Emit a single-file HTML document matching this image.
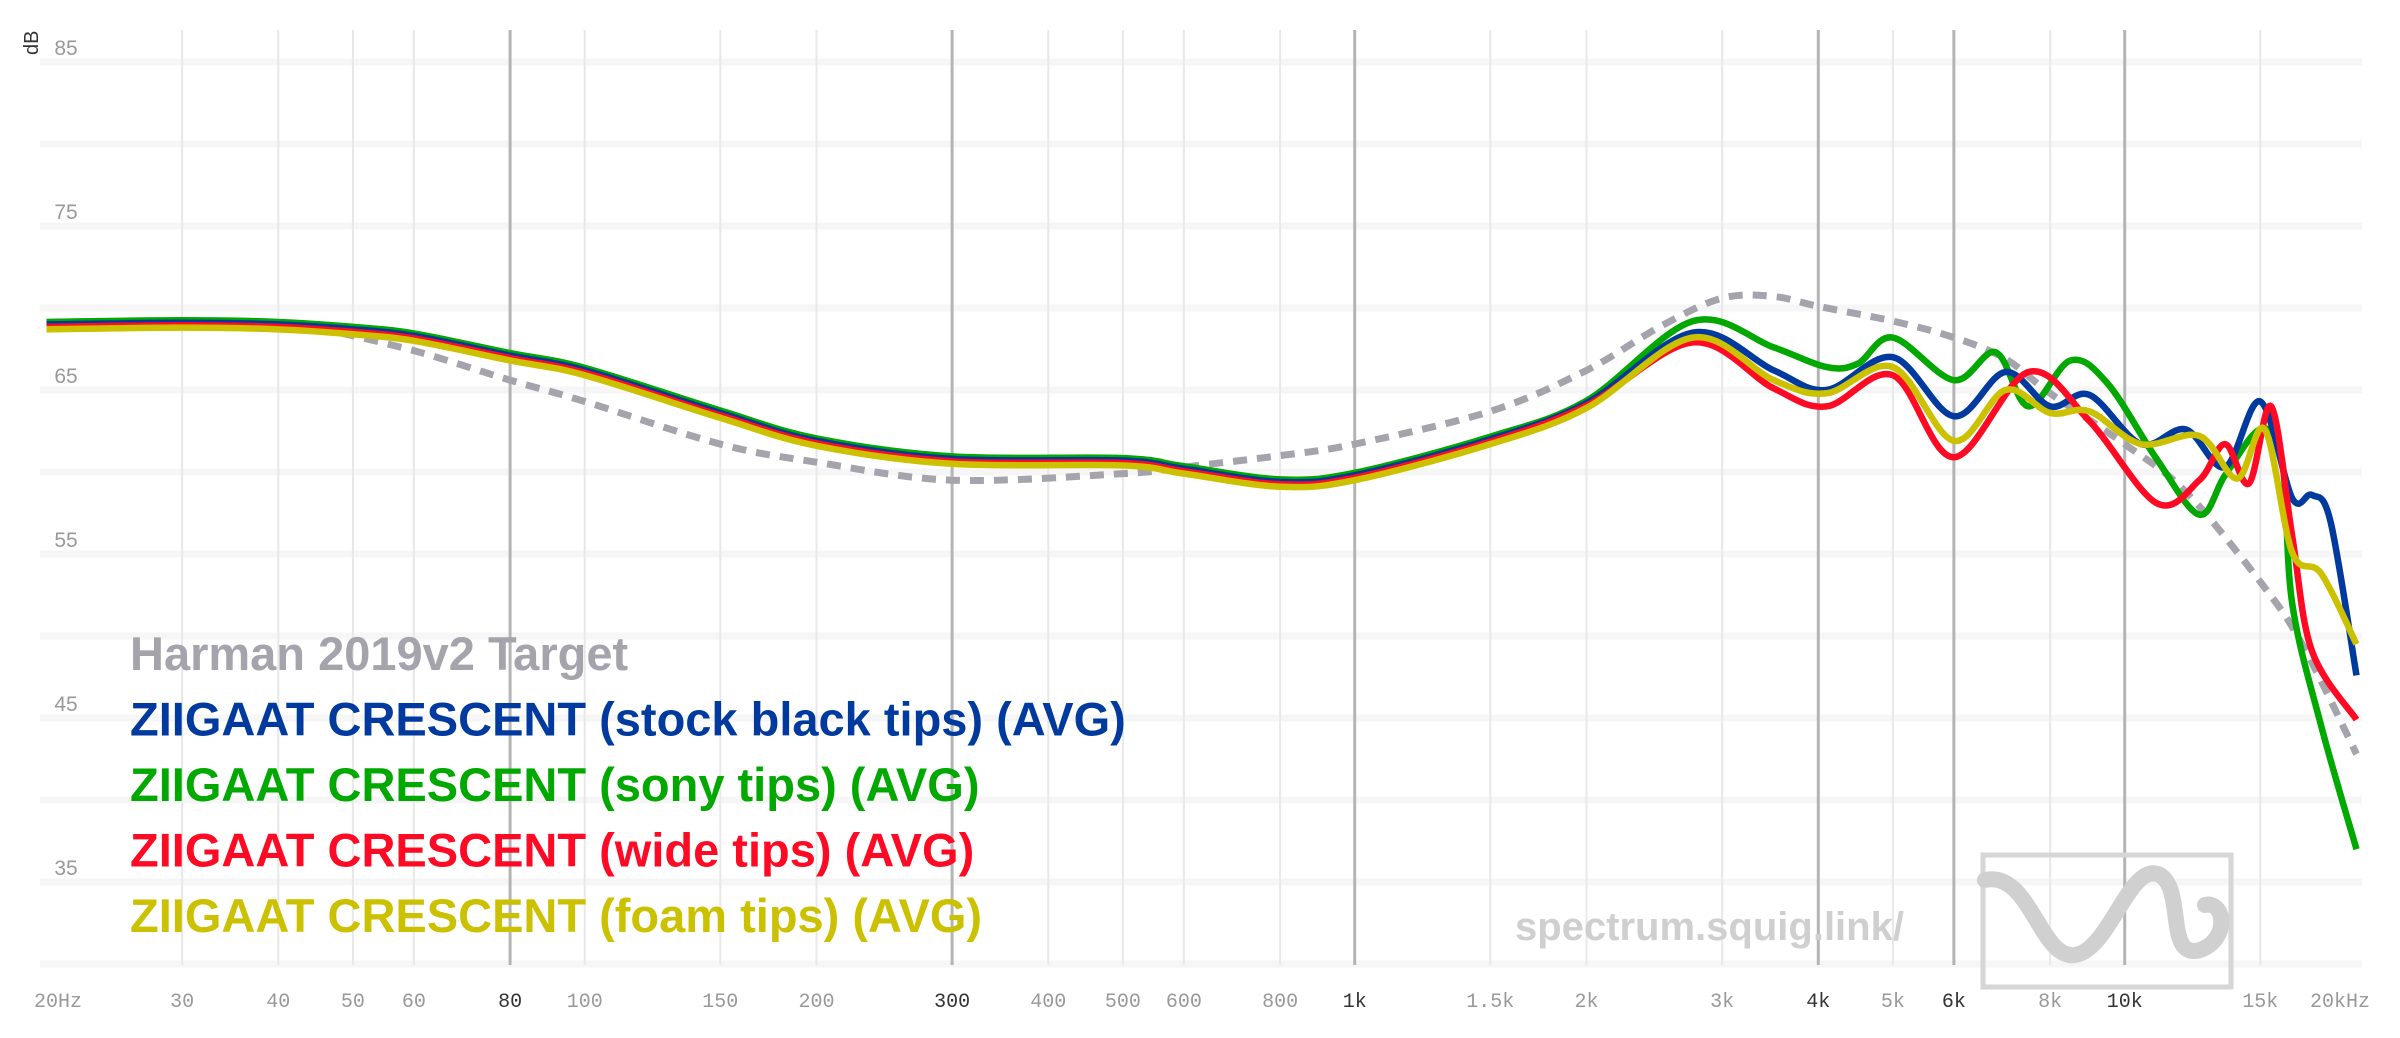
<!DOCTYPE html>
<html><head><meta charset="utf-8"><style>
html,body{margin:0;padding:0;background:#fff;}
svg{display:block;}
</style></head><body>
<svg id="s" width="2400" height="1038" xmlns="http://www.w3.org/2000/svg" font-family="Liberation Sans, sans-serif">
</svg>
<script>
const S=document.getElementById('s');
const X=f=>46.5+Math.log10(f/20)*770;
const Y=d=>62+(85-d)*16.4;
let h='';
for(let d=85;d>=30;d-=5){h+=`<line x1="40" x2="2362" y1="${Y(d)}" y2="${Y(d)}" stroke="#f6f6f6" stroke-width="7"/>`;}
const ticks=[[20,'20Hz'],[30,'30'],[40,'40'],[50,'50'],[60,'60'],[80,'80',1],[100,'100'],[150,'150'],[200,'200'],[300,'300',1],[400,'400'],[500,'500'],[600,'600'],[800,'800'],[1000,'1k',1],[1500,'1.5k'],[2000,'2k'],[3000,'3k'],[4000,'4k',1],[5000,'5k'],[6000,'6k',1],[8000,'8k'],[10000,'10k',1],[15000,'15k'],[20000,'20kHz']];
ticks.forEach(t=>{const x=X(t[0]);
 if(t[0]>20&&t[0]<20000)h+=`<line x1="${x}" x2="${x}" y1="30" y2="965" stroke="${t[2]?'#b4b4b4':'#e8e8e8'}" stroke-width="${t[2]?3:2}"/>`;
 h+=`<text x="${t[0]==20?58:(t[0]==20000?2340:x)}" y="1007" font-size="20" text-anchor="middle" fill="${t[2]?'#333':'#999'}" font-family="Liberation Mono, monospace">${t[1]}</text>`;});
[85,75,65,55,45,35].forEach(d=>{h+=`<text x="66" y="${Y(d)-7}" font-size="21" text-anchor="middle" fill="#999">${d}</text>`;});
h+=`<text transform="translate(38,55) rotate(-90)" font-size="20" fill="#333">dB</text>`;
h+=`<text x="1515" y="940" font-size="40" font-weight="bold" fill="#cfcfcf">spectrum.squig.link/</text>`;
h+=`<rect x="1983" y="855" width="248" height="132" fill="none" stroke="#d6d6d6" stroke-width="5"/>`;
h+=`<path d="M1985 880 C2030 870 2040 960 2075 955 C2110 950 2130 860 2160 875 C2185 890 2165 960 2200 950 C2230 940 2225 900 2205 905" fill="none" stroke="#d0d0d0" stroke-width="16" stroke-linecap="round"/>`;
function path(pts){const p=pts.map(a=>[X(a[0]),Y(a[1])]);let d=`M${p[0][0]},${p[0][1]}`;
 for(let i=0;i<p.length-1;i++){const p0=p[Math.max(i-1,0)],p1=p[i],p2=p[i+1],p3=p[Math.min(i+2,p.length-1)];
 d+=` C${p1[0]+(p2[0]-p0[0])/6},${p1[1]+(p2[1]-p0[1])/6} ${p2[0]-(p3[0]-p1[0])/6},${p2[1]-(p3[1]-p1[1])/6} ${p2[0]},${p2[1]}`;}return d;}
const common=[[20,69.0],[30,69.1],[40,69.0],[50,68.7],[60,68.3],[80,67.1],[100,66.2],[150,63.6],[200,61.9],[300,60.8],[500,60.7],[600,60.2],[800,59.4],[1000,59.8],[1500,62.0],[2000,64.2]];
const target=[[45,68.8],[60,67.4],[80,65.6],[100,64.3],[150,61.7],[200,60.6],[300,59.5],[500,59.9],[600,60.3],[800,61.0],[1000,61.7],[1500,63.7],[2000,66.2],[2500,68.9],[3000,70.6],[3500,70.7],[4000,70.1],[5000,69.2],[6000,68.2],[7000,66.9],[8000,64.8],[10000,61.7],[12000,58.8],[15000,53.3],[17000,49.5],[20000,42.8]];
const series={
'#00a800':[[2750,69.2],[3500,67.6],[4100,66.4],[4500,66.6],[5000,68.2],[6000,65.6],[6800,67.3],[7500,64.0],[8500,66.8],[9500,65.4],[11000,60.8],[12500,57.4],[13500,59.8],[15000,62.6],[16000,60.8],[16500,52],[18000,44.5],[20000,37]],
'#003a9e':[[2750,68.5],[3500,66.2],[4100,65.0],[5000,67.0],[6000,63.4],[7000,66.1],[8000,64.0],[9000,64.7],[10500,61.7],[12000,62.6],[13500,60.3],[15000,64.3],[16500,58.4],[17500,58.6],[18500,57.0],[20000,47.6]],
'#ff0a25':[[2750,67.9],[3500,65.1],[4100,64.0],[5000,65.9],[6000,60.9],[7500,66.1],[9000,63.1],[11000,58.1],[12500,59.5],[13500,61.7],[14500,59.3],[15500,64.0],[16500,56.1],[17500,49.1],[20000,44.9]],
'#cbc100':[[2750,68.2],[3500,65.6],[4100,64.8],[5000,66.4],[6000,61.9],[7000,65.0],[8000,63.6],[9000,63.7],[10500,61.7],[12500,62.2],[14000,59.6],[15200,62.6],[16500,55.1],[18000,53.8],[20000,49.5]]};
h+=`<path d="${path(target)}" fill="none" stroke="#a5a3ab" stroke-width="7" stroke-dasharray="14 10"/>`;
const off={'#00a800':0.15,'#003a9e':0,'#ff0a25':-0.15,'#cbc100':-0.3};
['#00a800','#003a9e','#ff0a25','#cbc100'].forEach(c=>{const pts=common.map(a=>[a[0],a[1]+off[c]]).concat(series[c]);
 h+=`<path d="${path(pts)}" fill="none" stroke="${c}" stroke-width="6.5" stroke-linejoin="round"/>`;});
const L=[['#a5a3ab','Harman 2019v2 Target'],['#003a9e','ZIIGAAT CRESCENT (stock black tips) (AVG)'],['#00a800','ZIIGAAT CRESCENT (sony tips) (AVG)'],['#ff0a25','ZIIGAAT CRESCENT (wide tips) (AVG)'],['#cbc100','ZIIGAAT CRESCENT (foam tips) (AVG)']];
L.forEach((l,i)=>{h+=`<text x="130" y="${670+i*65.5}" font-size="47" font-weight="bold" fill="${l[0]}">${l[1]}</text>`;});
S.innerHTML=h;
</script>
</body></html>
